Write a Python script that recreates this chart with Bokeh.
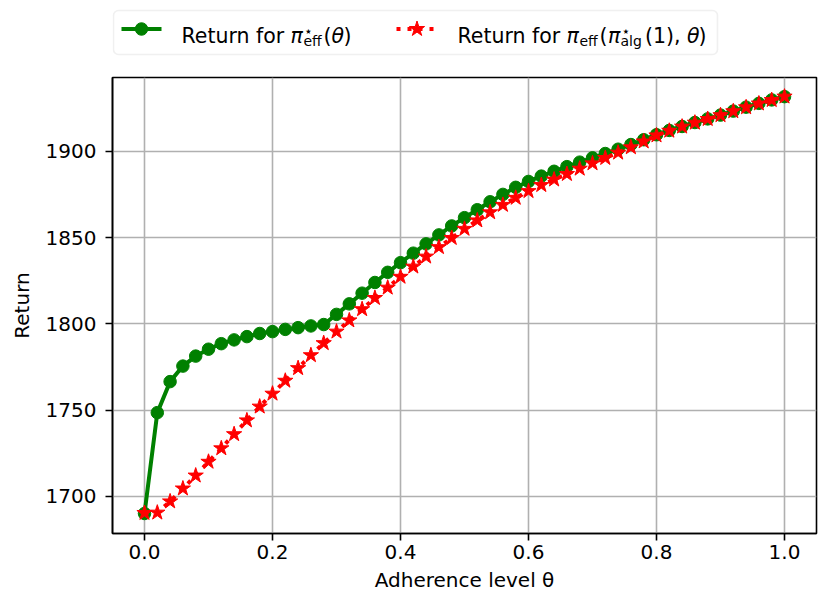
from bokeh.plotting import figure
from bokeh.layouts import column
from bokeh.models import Range1d, FixedTicker, PrintfTickFormatter, BoxAnnotation, ColumnDataSource
from bokeh.core.properties import value
from bokeh.embed import file_html
from bokeh.resources import INLINE

# ---------------- data ----------------
theta = [0.00, 0.02, 0.04, 0.06, 0.08, 0.10, 0.12, 0.14, 0.16, 0.18,
         0.20, 0.22, 0.24, 0.26, 0.28, 0.30, 0.32, 0.34, 0.36, 0.38,
         0.40, 0.42, 0.44, 0.46, 0.48, 0.50, 0.52, 0.54, 0.56, 0.58,
         0.60, 0.62, 0.64, 0.66, 0.68, 0.70, 0.72, 0.74, 0.76, 0.78,
         0.80, 0.82, 0.84, 0.86, 0.88, 0.90, 0.92, 0.94, 0.96, 0.98, 1.00]

return_eff = [1690.0, 1748.5, 1766.5, 1775.5, 1781.3, 1785.3, 1788.5, 1790.7, 1792.6, 1794.4,
              1795.5, 1796.8, 1797.8, 1798.8, 1799.6, 1805.5, 1811.6, 1817.8, 1824.0, 1829.9,
              1835.5, 1841.0, 1846.4, 1851.6, 1856.8, 1861.6, 1866.2, 1870.8, 1875.1, 1879.2,
              1882.6, 1885.7, 1888.5, 1891.2, 1893.8, 1896.3, 1898.8, 1901.3, 1904.0, 1906.8,
              1909.7, 1912.2, 1914.5, 1916.8, 1918.9, 1921.1, 1923.4, 1925.7, 1927.9, 1929.9, 1931.8]

return_alg = [1690.3, 1690.5, 1697.0, 1704.5, 1712.0, 1720.0, 1727.8, 1736.0, 1744.0, 1752.0,
              1759.5, 1767.0, 1774.3, 1781.8, 1788.8, 1795.5, 1802.0, 1808.5, 1815.0, 1821.0,
              1827.3, 1833.2, 1839.0, 1844.5, 1849.8, 1855.1, 1860.0, 1864.7, 1869.0, 1873.1,
              1877.0, 1880.5, 1883.7, 1886.9, 1890.0, 1893.1, 1896.2, 1899.3, 1902.4, 1905.8,
              1909.3, 1912.0, 1914.4, 1916.7, 1918.8, 1921.0, 1923.3, 1925.6, 1927.8, 1929.8, 1931.8]

x_ticks = [0.0, 0.2, 0.4, 0.6, 0.8, 1.0]
y_ticks = [1700, 1750, 1800, 1850, 1900]

x_label = "Adherence level θ"
y_label = "Return"

FONT = "DejaVu Sans"
GREEN = "#008000"
RED = "#ff0000"

W = 831
BL, BR = 112, 15          # left / right borders shared by both figures
LH = 72                   # height of the legend strip

# ---------------- legend strip (figure above the plot) ----------------
leg = figure(width=W, height=LH, x_range=Range1d(BL, W - BR), y_range=Range1d(0, LH),
             toolbar_location=None, output_backend="svg",
             x_axis_type=None, y_axis_type=None,
             min_border_left=BL, min_border_right=BR,
             min_border_top=0, min_border_bottom=0)
leg.outline_line_color = None
leg.xgrid.visible = False
leg.ygrid.visible = False

def Y(page_y):
    return LH - page_y

box = BoxAnnotation(left=113, right=717, top=Y(10), bottom=Y(54),
                    fill_color="white", fill_alpha=0.8,
                    line_color="#cccccc", line_width=1.6, border_radius=5,
                    level="underlay")
leg.add_layout(box)

# handles
HY = Y(28.5)
leg.line([121, 161], [HY, HY], line_color=GREEN, line_width=4)
leg.scatter([141], [HY], marker="circle", size=12.5, fill_color=GREEN, line_color=GREEN)
leg.line([396, 437], [HY, HY], line_color=RED, line_width=4, line_dash="4 7", line_cap="butt")
leg.scatter([416.5], [HY], marker="star", size=16, fill_color=RED, line_color=RED)

def txt(px, py, s, size=20.5, style="normal"):
    leg.text(x=[px], y=[Y(py)], text=[s], text_font=value(FONT),
             text_font_size=f"{size}px", text_font_style=style,
             text_color="black", text_align="left", text_baseline="alphabetic")

BASE = 35.5
SUP = 30.5
SUB = 40.0
# item 1: Return for π*_eff(θ)
txt(181, BASE, "Return for ")
txt(290, BASE, "π", style="italic")
txt(303.5, SUP, "⋆", size=14)
txt(303, SUB, "eff", size=14)
txt(323, BASE, "(")
txt(331, BASE, "θ", style="italic")
txt(343, BASE, ")")
# item 2: Return for π_eff(π*_alg(1), θ)
txt(457, BASE, "Return for ")
txt(566, BASE, "π", style="italic")
txt(579, SUB, "eff", size=14)
txt(599, BASE, "(")
txt(607.5, BASE, "π", style="italic")
txt(621, SUP, "⋆", size=14)
txt(620, SUB, "alg", size=14)
txt(644.5, BASE, "(1),")
txt(686.5, BASE, "θ", style="italic")
txt(698, BASE, ")")

# ---------------- main plot ----------------
p = figure(width=W, height=613 - LH,
           x_range=Range1d(-0.05, 1.05), y_range=Range1d(1678.4, 1942.9),
           toolbar_location=None, output_backend="svg",
           min_border_left=BL, min_border_right=BR, min_border_top=77 - LH,
           min_border_bottom=613 - 533)

src = ColumnDataSource(dict(theta=theta, eff=return_eff, alg=return_alg))

p.line("theta", "eff", source=src, line_color=GREEN, line_width=4)
p.scatter("theta", "eff", source=src, marker="circle", size=12.5,
          fill_color=GREEN, line_color=GREEN)
p.line("theta", "alg", source=src, line_color=RED, line_width=4,
       line_dash="4 7", line_cap="butt")
p.scatter("theta", "alg", source=src, marker="star", size=16,
          fill_color=RED, line_color=RED)

p.outline_line_color = "black"
p.outline_line_width = 1.6
p.outline_line_alpha = 1.0

for g in (p.xgrid, p.ygrid):
    g.grid_line_color = "#b0b0b0"
    g.grid_line_width = 1.6

p.xgrid.ticker = FixedTicker(ticks=x_ticks)
p.ygrid.ticker = FixedTicker(ticks=y_ticks)

p.xaxis.ticker = FixedTicker(ticks=x_ticks)
p.xaxis.formatter = PrintfTickFormatter(format="%.1f")
p.yaxis.ticker = FixedTicker(ticks=y_ticks)

for ax in (p.xaxis[0], p.yaxis[0]):
    ax.axis_line_color = "black"
    ax.axis_line_width = 1.6
    ax.major_tick_line_color = "black"
    ax.major_tick_line_width = 1.6
    ax.major_tick_out = 7
    ax.major_tick_in = 0
    ax.minor_tick_out = 0
    ax.minor_tick_in = 0
    ax.major_label_text_font = FONT
    ax.major_label_text_font_size = "20px"
    ax.major_label_text_color = "black"
    ax.axis_label_text_font = FONT
    ax.axis_label_text_font_size = "20px"
    ax.axis_label_text_font_style = "normal"
    ax.axis_label_text_color = "black"

p.xaxis.major_label_standoff = 4
p.yaxis.major_label_standoff = 9
p.xaxis.axis_label = x_label
p.yaxis.axis_label = y_label
p.xaxis.axis_label_standoff = 6
p.yaxis.axis_label_standoff = 9

layout = column(leg, p, spacing=0)

open("out.html", "w").write(file_html(layout, INLINE))
